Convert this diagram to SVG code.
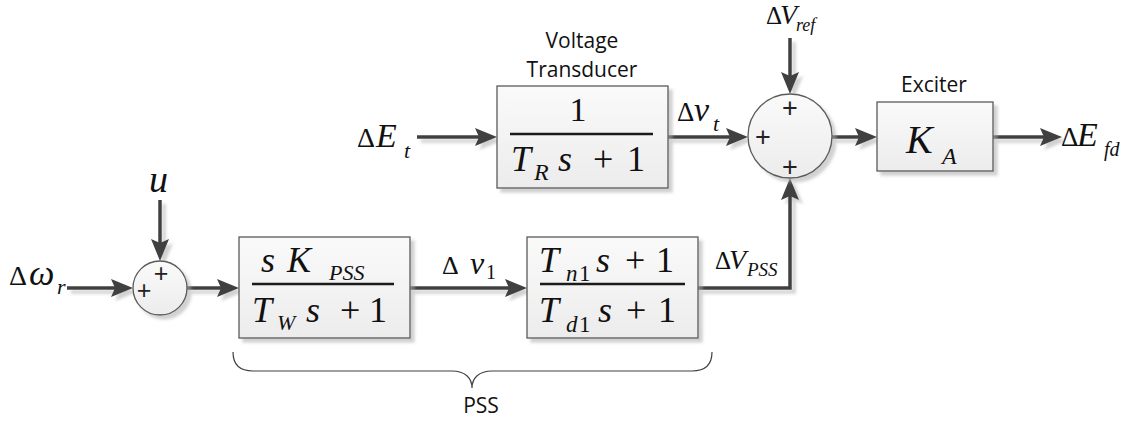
<svg xmlns="http://www.w3.org/2000/svg" width="1136" height="422" viewBox="0 0 1136 422">
<style>
.box{fill:url(#g);stroke:#5a5a5a;stroke-width:1.3}
.sum{fill:url(#g);stroke:#5a5a5a;stroke-width:1.3}
.wire{fill:none;stroke:#404040;stroke-width:3.5}
.frac{stroke:#1a1a1a;stroke-width:2.4}
.m{font-family:"Liberation Serif",serif;font-style:italic;fill:#111}
.u{font-family:"Liberation Serif",serif;fill:#111}
.lbl{font-family:"Open Sans","Liberation Sans",sans-serif;font-size:21px;fill:#111;text-anchor:middle}
.pl{font-family:"Liberation Sans",sans-serif;fill:#222;text-anchor:middle}
.brace{fill:none;stroke:#404040;stroke-width:1.2}
</style>
<defs>
<linearGradient id="g" x1="0" y1="0" x2="0" y2="1">
<stop offset="0" stop-color="#fafafa"/>
<stop offset="1" stop-color="#ececec"/>
</linearGradient>
<filter id="sh" x="-10%" y="-10%" width="130%" height="130%">
<feDropShadow dx="4" dy="4" stdDeviation="1.5" flood-color="#aaaaaa" flood-opacity="0.55"/>
</filter>
<marker id="ah" markerUnits="userSpaceOnUse" markerWidth="24" markerHeight="20" refX="4" refY="9" orient="auto">
<path d="M0,0 L22,9 L0,18 L4,9 Z" fill="#404040"/>
</marker>
</defs>

<g id="connectors" filter="url(#sh)">
<line class="wire" x1="67" y1="288" x2="115" y2="288" marker-end="url(#ah)"/>
<line class="wire" x1="160" y1="200" x2="160" y2="243" marker-end="url(#ah)"/>
<line class="wire" x1="187" y1="288" x2="221" y2="288" marker-end="url(#ah)"/>
<line class="wire" x1="410" y1="288" x2="509" y2="288" marker-end="url(#ah)"/>
<polyline class="wire" points="698,288 790,288 790,196" marker-end="url(#ah)"/>
<line class="wire" x1="417" y1="137" x2="479" y2="137" marker-end="url(#ah)"/>
<line class="wire" x1="668" y1="137" x2="730" y2="137" marker-end="url(#ah)"/>
<line class="wire" x1="790" y1="38" x2="790" y2="76" marker-end="url(#ah)"/>
<line class="wire" x1="832" y1="137" x2="859" y2="137" marker-end="url(#ah)"/>
<line class="wire" x1="993" y1="137" x2="1044" y2="137" marker-end="url(#ah)"/>
</g>

<g id="sum1">
<circle class="sum" cx="160" cy="288" r="27" filter="url(#sh)"/>
<text class="pl" x="161" y="282" font-size="25">+</text>
<text class="pl" x="144" y="299" font-size="25">+</text>
</g>

<g id="sum2">
<circle class="sum" cx="790" cy="136" r="42" filter="url(#sh)"/>
<text class="pl" x="790" y="117" font-size="27">+</text>
<text class="pl" x="763" y="146" font-size="27">+</text>
<text class="pl" x="790" y="176" font-size="27">+</text>
</g>

<g id="transducer">
<rect class="box" x="497" y="86" width="171" height="102" filter="url(#sh)"/>
<text class="lbl" x="582" y="48">Voltage</text>
<text class="lbl" x="582" y="77">Transducer</text>
<text class="u" x="578" y="121" font-size="34" text-anchor="middle">1</text>
<line class="frac" x1="510" y1="134" x2="653" y2="134"/>
<text class="m" x="511" y="171" font-size="36">T</text>
<text class="m" x="534" y="180" font-size="24">R</text>
<text class="m" x="558" y="171" font-size="36">s</text>
<text class="u" x="593" y="171" font-size="36">+</text>
<text class="u" x="627" y="171" font-size="36">1</text>
</g>

<g id="exciter">
<rect class="box" x="877" y="102" width="116" height="69" filter="url(#sh)"/>
<text class="lbl" x="934" y="92">Exciter</text>
<text class="m" x="906" y="153" font-size="40">K</text>
<text class="m" x="942" y="164" font-size="24">A</text>
</g>

<g id="washout">
<rect class="box" x="239" y="237" width="171" height="101" filter="url(#sh)"/>
<text class="m" x="261" y="272" font-size="36">s</text>
<text class="m" x="287" y="272" font-size="36">K</text>
<text class="m" x="329" y="280" font-size="22">PSS</text>
<line class="frac" x1="252" y1="284" x2="394" y2="284"/>
<text class="m" x="252" y="322" font-size="36">T</text>
<text class="m" x="277" y="330" font-size="22">W</text>
<text class="m" x="306" y="322" font-size="36">s</text>
<text class="u" x="340" y="322" font-size="36">+</text>
<text class="u" x="369" y="322" font-size="36">1</text>
</g>

<g id="leadlag">
<rect class="box" x="527" y="237" width="171" height="101" filter="url(#sh)"/>
<text class="m" x="539" y="272" font-size="36">T</text>
<text class="m" x="566" y="281" font-size="23">n</text>
<text class="u" x="579" y="281" font-size="23">1</text>
<text class="m" x="596" y="272" font-size="36">s</text>
<text class="u" x="625" y="272" font-size="36">+</text>
<text class="u" x="656" y="272" font-size="36">1</text>
<line class="frac" x1="540" y1="284" x2="685" y2="284"/>
<text class="m" x="539" y="322" font-size="36">T</text>
<text class="m" x="566" y="332" font-size="23">d</text>
<text class="u" x="579" y="332" font-size="23">1</text>
<text class="m" x="598" y="322" font-size="36">s</text>
<text class="u" x="626" y="322" font-size="36">+</text>
<text class="u" x="658" y="322" font-size="36">1</text>
</g>

<g id="labels">
<text class="u" x="9" y="285" font-size="28">Δ</text>
<text class="m" x="29" y="285" font-size="36">ω</text>
<text class="m" x="57" y="294" font-size="22">r</text>

<text class="m" x="149" y="192" font-size="38">u</text>

<text class="u" x="357" y="147" font-size="28">Δ</text>
<text class="m" x="376" y="147" font-size="34">E</text>
<text class="m" x="404" y="158" font-size="22">t</text>

<text class="u" x="677" y="121" font-size="27">Δ</text>
<text class="m" x="694" y="121" font-size="34">v</text>
<text class="m" x="713" y="131" font-size="22">t</text>

<text class="u" x="766" y="24" font-size="25">Δ</text>
<text class="m" x="780" y="24" font-size="28">V</text>
<text class="m" x="796" y="31" font-size="18">ref</text>

<text class="u" x="1061" y="146" font-size="27">Δ</text>
<text class="m" x="1077" y="146" font-size="34">E</text>
<text class="m" x="1104" y="156" font-size="20">fd</text>

<text class="u" x="715" y="269" font-size="25">Δ</text>
<text class="m" x="729" y="269" font-size="28">V</text>
<text class="m" x="747" y="276" font-size="19">PSS</text>

<text class="u" x="442" y="274" font-size="26">Δ</text>
<text class="m" x="470" y="274" font-size="32">v</text>
<text class="u" x="486" y="279" font-size="20">1</text>
</g>

<g id="pss-brace">
<path class="brace" d="M233,352 C233,365 240,371 253,371 L452,371 C465,371 472,378 472,388 C472,378 479,371 492,371 L692,371 C705,371 712,365 712,352"/>
<text class="lbl" x="481" y="413">PSS</text>
</g>
</svg>
